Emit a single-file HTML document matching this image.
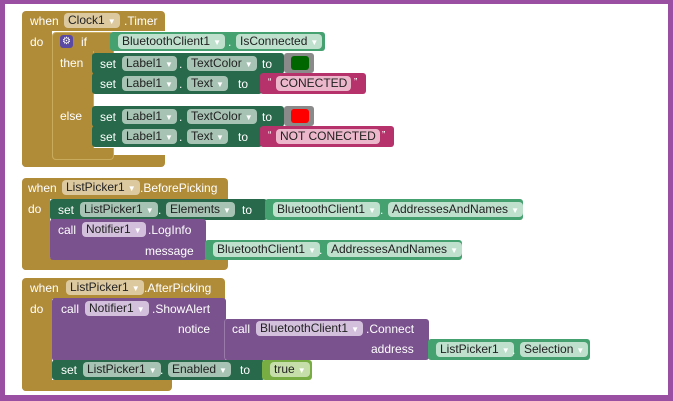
<!DOCTYPE html>
<html><head><meta charset="utf-8"><style>
body{margin:0;width:673px;height:401px;overflow:hidden;background:#fff;font-family:"Liberation Sans",sans-serif;}
.frame{position:absolute;left:0;top:0;width:663px;height:391px;border:5px solid #9b4fa3;border-top-width:4px;border-bottom-width:6px;}
.r{position:absolute;}
.g{background:#b18c38;}
.s{background:#27694a;border-radius:3px;}
.t{background:#46a170;border-radius:3px;}
.p{background:#7a528e;border-radius:3px;}
.m{background:#b5326a;border-radius:3px;}
.x{position:absolute;color:#fff;font-size:12px;line-height:14px;white-space:nowrap;}
.f{position:absolute;font-size:12px;line-height:14px;height:15px;padding:0 4px;border-radius:4px;color:#222;white-space:nowrap;box-sizing:border-box;}
.fg{background:#dcc9a0}.fs{background:#a6c3b3}.ft{background:#bfe0cd}.fp{background:#d3c0dc}.fm{background:#ecb7cb}
.dd{color:#fff;font-size:8px;margin-left:3px;}
</style></head><body>
<div class="frame"></div>

<!-- Block 1 -->
<div class="r g" style="left:22px;top:11px;width:143px;height:20px;border-radius:4px 4px 0 0"></div>
<div class="r g" style="left:22px;top:30px;width:30px;height:137px;border-radius:0 0 0 4px"></div>
<div class="r g" style="left:22px;top:155px;width:143px;height:12px;border-radius:0 0 4px 4px"></div>
<div class="x" style="left:30px;top:14px">when</div>
<div class="f fg" style="left:64px;top:13px">Clock1<span class="dd">▼</span></div>
<div class="x" style="left:124px;top:14px">.Timer</div>
<div class="x" style="left:30px;top:35px">do</div>
<!-- if -->
<div class="r g" style="left:52px;top:32px;width:60px;height:20px;border-radius:4px 4px 0 0;border:1px solid #c9ab5e;border-bottom:none"></div>
<div class="r g" style="left:52px;top:51px;width:40px;height:108px;border:1px solid #c9ab5e;border-top:none;border-radius:0 0 0 4px"></div>
<div class="r g" style="left:52px;top:148px;width:60px;height:11px;border:1px solid #c9ab5e;border-top:none;border-radius:0 0 4px 4px"></div>
<div class="r" style="left:60px;top:35px;width:13px;height:13px;background:#5b4aa4;border-radius:3px;color:#fff;font-size:10px;line-height:13px;text-align:center">⚙</div>
<div class="x" style="left:81px;top:35px">if</div>
<div class="x" style="left:60px;top:56px">then</div>
<div class="x" style="left:60px;top:109px">else</div>
<div class="r t" style="left:110px;top:32px;width:215px;height:19px"></div>
<div class="f ft" style="left:118px;top:34px">BluetoothClient1<span class="dd">▼</span></div>
<div class="x" style="left:228px;top:35px">.</div>
<div class="f ft" style="left:236px;top:34px">IsConnected<span class="dd">▼</span></div>

<div class="r s" style="left:92px;top:53px;width:192px;height:21px"></div>
<div class="r s" style="left:92px;top:73px;width:170px;height:21px"></div>
<div class="x" style="left:100px;top:57px">set</div>
<div class="f fs" style="left:122px;top:56px">Label1<span class="dd">▼</span></div>
<div class="x" style="left:179px;top:57px">.</div>
<div class="f fs" style="left:187px;top:56px">TextColor<span class="dd">▼</span></div>
<div class="x" style="left:262px;top:57px">to</div>
<div class="r" style="left:284px;top:53px;width:30px;height:20px;background:#8a8a8a;border-radius:3px"></div>
<div class="r" style="left:291px;top:56px;width:18px;height:14px;background:#006600;border-radius:3px"></div>
<div class="x" style="left:100px;top:77px">set</div>
<div class="f fs" style="left:122px;top:76px">Label1<span class="dd">▼</span></div>
<div class="x" style="left:179px;top:77px">.</div>
<div class="f fs" style="left:187px;top:76px">Text<span class="dd">▼</span></div>
<div class="x" style="left:238px;top:77px">to</div>
<div class="r m" style="left:260px;top:73px;width:106px;height:21px"></div>
<div class="x" style="left:268px;top:76px;font-size:10px">“</div>
<div class="f fm" style="left:276px;top:76px">CONECTED</div>
<div class="x" style="left:354px;top:76px;font-size:10px">”</div>

<div class="r s" style="left:92px;top:106px;width:192px;height:21px"></div>
<div class="r s" style="left:92px;top:126px;width:170px;height:21px"></div>
<div class="x" style="left:100px;top:110px">set</div>
<div class="f fs" style="left:122px;top:109px">Label1<span class="dd">▼</span></div>
<div class="x" style="left:179px;top:110px">.</div>
<div class="f fs" style="left:187px;top:109px">TextColor<span class="dd">▼</span></div>
<div class="x" style="left:262px;top:110px">to</div>
<div class="r" style="left:284px;top:106px;width:30px;height:20px;background:#8a8a8a;border-radius:3px"></div>
<div class="r" style="left:291px;top:109px;width:18px;height:14px;background:#ff0000;border-radius:3px"></div>
<div class="x" style="left:100px;top:130px">set</div>
<div class="f fs" style="left:122px;top:129px">Label1<span class="dd">▼</span></div>
<div class="x" style="left:179px;top:130px">.</div>
<div class="f fs" style="left:187px;top:129px">Text<span class="dd">▼</span></div>
<div class="x" style="left:238px;top:130px">to</div>
<div class="r m" style="left:260px;top:126px;width:134px;height:21px"></div>
<div class="x" style="left:268px;top:129px;font-size:10px">“</div>
<div class="f fm" style="left:276px;top:129px">NOT CONECTED</div>
<div class="x" style="left:382px;top:129px;font-size:10px">”</div>

<!-- Block 2 -->
<div class="r g" style="left:22px;top:178px;width:206px;height:21px;border-radius:4px 4px 0 0"></div>
<div class="r g" style="left:22px;top:198px;width:28px;height:72px;border-radius:0 0 0 4px"></div>
<div class="r g" style="left:22px;top:258px;width:206px;height:12px;border-radius:0 0 4px 4px"></div>
<div class="x" style="left:28px;top:181px">when</div>
<div class="f fg" style="left:62px;top:180px">ListPicker1<span class="dd">▼</span></div>
<div class="x" style="left:140px;top:181px">.BeforePicking</div>
<div class="x" style="left:28px;top:202px">do</div>
<div class="r s" style="left:50px;top:199px;width:217px;height:21px"></div>
<div class="x" style="left:58px;top:203px">set</div>
<div class="f fs" style="left:80px;top:202px">ListPicker1<span class="dd">▼</span></div>
<div class="x" style="left:158px;top:203px">.</div>
<div class="f fs" style="left:166px;top:202px">Elements<span class="dd">▼</span></div>
<div class="x" style="left:242px;top:203px">to</div>
<div class="r t" style="left:265px;top:199px;width:258px;height:21px"></div>
<div class="f ft" style="left:273px;top:202px">BluetoothClient1<span class="dd">▼</span></div>
<div class="x" style="left:380px;top:203px">.</div>
<div class="f ft" style="left:388px;top:202px">AddressesAndNames<span class="dd">▼</span></div>
<div class="r p" style="left:50px;top:219px;width:156px;height:41px"></div>
<div class="x" style="left:58px;top:223px">call</div>
<div class="f fp" style="left:82px;top:222px">Notifier1<span class="dd">▼</span></div>
<div class="x" style="left:148px;top:223px">.LogInfo</div>
<div class="x" style="left:145px;top:244px">message</div>
<div class="r t" style="left:205px;top:240px;width:257px;height:20px"></div>
<div class="f ft" style="left:213px;top:242px">BluetoothClient1<span class="dd">▼</span></div>
<div class="x" style="left:319px;top:243px">.</div>
<div class="f ft" style="left:327px;top:242px">AddressesAndNames<span class="dd">▼</span></div>

<!-- Block 3 -->
<div class="r g" style="left:22px;top:278px;width:203px;height:21px;border-radius:4px 4px 0 0"></div>
<div class="r g" style="left:22px;top:298px;width:30px;height:93px;border-radius:0 0 0 4px"></div>
<div class="r g" style="left:22px;top:380px;width:150px;height:11px;border-radius:0 0 4px 4px"></div>
<div class="x" style="left:30px;top:281px">when</div>
<div class="f fg" style="left:66px;top:280px">ListPicker1<span class="dd">▼</span></div>
<div class="x" style="left:144px;top:281px">.AfterPicking</div>
<div class="x" style="left:30px;top:302px">do</div>
<div class="r p" style="left:52px;top:298px;width:174px;height:63px"></div>
<div class="x" style="left:61px;top:302px">call</div>
<div class="f fp" style="left:85px;top:301px">Notifier1<span class="dd">▼</span></div>
<div class="x" style="left:152px;top:302px">.ShowAlert</div>
<div class="x" style="left:178px;top:322px">notice</div>
<div class="r p" style="left:224px;top:319px;width:204px;height:41px;border-left:1px solid #9a7aab"></div>
<div class="x" style="left:232px;top:322px">call</div>
<div class="f fp" style="left:256px;top:321px">BluetoothClient1<span class="dd">▼</span></div>
<div class="x" style="left:366px;top:322px">.Connect</div>
<div class="x" style="left:371px;top:342px">address</div>
<div class="r t" style="left:428px;top:339px;width:162px;height:21px"></div>
<div class="f ft" style="left:436px;top:342px">ListPicker1<span class="dd">▼</span></div>
<div class="x" style="left:512px;top:343px">.</div>
<div class="f ft" style="left:520px;top:342px">Selection<span class="dd">▼</span></div>
<div class="r s" style="left:52px;top:360px;width:213px;height:20px"></div>
<div class="x" style="left:61px;top:363px">set</div>
<div class="f fs" style="left:83px;top:362px">ListPicker1<span class="dd">▼</span></div>
<div class="x" style="left:160px;top:363px">.</div>
<div class="f fs" style="left:168px;top:362px">Enabled<span class="dd">▼</span></div>
<div class="x" style="left:240px;top:363px">to</div>
<div class="r" style="left:262px;top:360px;width:50px;height:20px;background:#78ad43;border-radius:3px"></div>
<div class="f" style="left:270px;top:362px;background:#c6dfaa">true<span class="dd">▼</span></div>
</body></html>
